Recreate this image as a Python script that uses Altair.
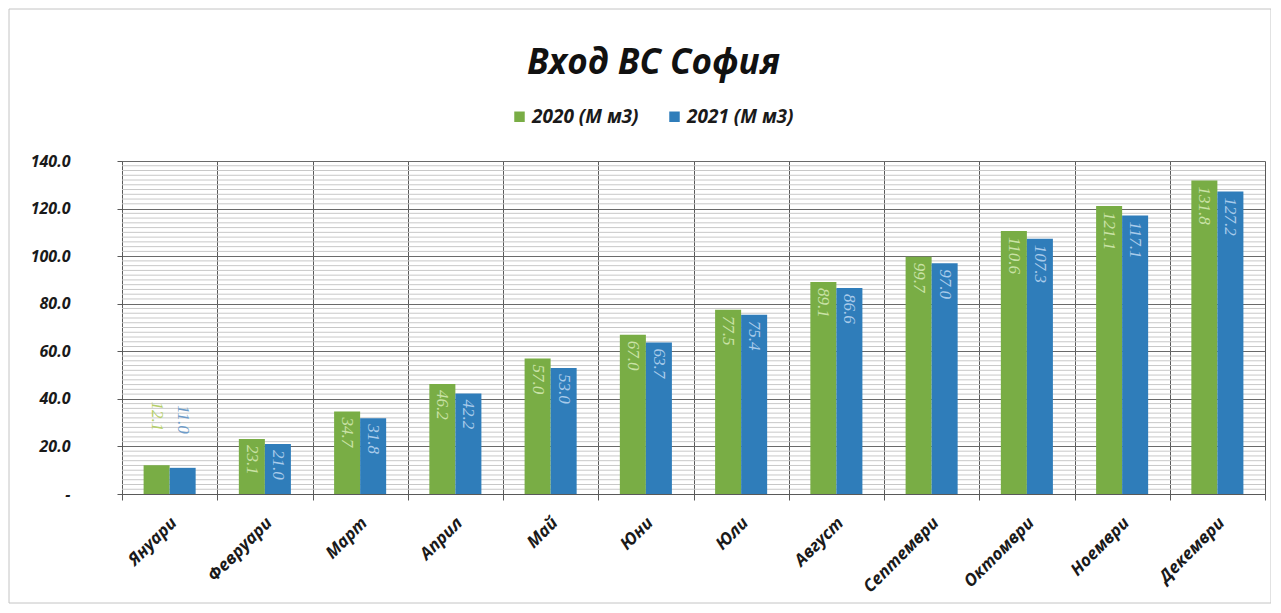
import altair as alt
import pandas as pd

months = ["Януари", "Февруари", "Март", "Април", "Май", "Юни", "Юли",
          "Август", "Септември", "Октомври", "Ноември", "Декември"]
series = ["2020 (М м3)", "2021 (М м3)"]
values_2020 = [12.1, 23.1, 34.7, 46.2, 57.0, 67.0, 77.5, 89.1, 99.7, 110.6, 121.1, 131.8]
values_2021 = [11.0, 21.0, 31.8, 42.2, 53.0, 63.7, 75.4, 86.6, 97.0, 107.3, 117.1, 127.2]
y_ticks = [0, 20, 40, 60, 80, 100, 120, 140]
minor_grid = [v for v in range(0, 141, 2) if v % 20 != 0]

colors = ["#79ad45", "#2f7dba"]
label_colors = ["#c9e2a6", "#a9cbea"]
outside_colors = ["#b5cf6a", "#6d9bc8"]

rows = []
for i, m in enumerate(months):
    rows.append({"month": m, "series": series[0], "value": values_2020[i], "idx": i})
    rows.append({"month": m, "series": series[1], "value": values_2021[i], "idx": i})
df = pd.DataFrame(rows)
grid_df = pd.DataFrame({"g": minor_grid})

FONT = "Open Sans"
W, H = 1143, 333

x_enc = alt.X(
    "month:N", sort=months,
    scale=alt.Scale(paddingInner=0, paddingOuter=0),
    axis=alt.Axis(
        title=None, tickBand="extent", labelAngle=-45, labelFont=FONT,
        labelFontSize=17, labelFontWeight="bold", labelFontStyle="italic",
        labelColor="#1a1a1a", labelPadding=20, tickSize=6, tickColor="#595959",
        domainColor="#595959", grid=True, gridColor="#595959", gridOpacity=1,
        labelAlign="right", labelBaseline="middle", labelOffset=4,
    ),
)
y_scale = alt.Scale(domain=[0, 140], nice=False)
y_axis = alt.Axis(
    title=None, values=y_ticks,
    labelExpr="datum.value == 0 ? '-' : format(datum.value, '.1f')",
    labelFont=FONT, labelFontSize=16, labelFontWeight="bold",
    labelFontStyle="italic", labelColor="#1a1a1a", labelPadding=47,
    tickSize=5, tickColor="#595959", domainColor="#595959",
    grid=True, gridColor="#6a6a6a", gridOpacity=1,
)
x_off = alt.XOffset("series:N", sort=series, scale=alt.Scale(paddingOuter=0.83, paddingInner=0))

frame = alt.Chart(pd.DataFrame({"a": [0]})).mark_rect(
    fill=None, stroke="#c4c4c4", strokeWidth=1
).encode(x=alt.value(-113), x2=alt.value(1149), y=alt.value(-152), y2=alt.value(442))

minor = alt.Chart(grid_df).mark_rule(color="#c8c8c8", strokeWidth=1).encode(
    y=alt.Y("g:Q", scale=y_scale, axis=y_axis)
)

base = alt.Chart(df)

bars = base.mark_bar().encode(
    x=x_enc,
    xOffset=x_off,
    y=alt.Y("value:Q", scale=y_scale, axis=y_axis),
    color=alt.Color(
        "series:N", sort=series, scale=alt.Scale(domain=series, range=colors),
        legend=alt.Legend(
            title=None, orient="none", legendX=388, legendY=-54,
            direction="horizontal", symbolType="square", symbolSize=110,
            symbolStrokeWidth=0, labelFont=FONT, labelFontSize=19,
            labelFontWeight="bold", labelFontStyle="italic", labelColor="#1a1a1a",
            columnPadding=26, labelOffset=3, labelLimit=300,
        ),
    ),
)

inside = base.transform_filter("datum.value >= 15").mark_text(
    angle=90, align="left", baseline="middle", dx=6, font="Liberation Serif",
    fontStyle="italic", fontSize=17,
).encode(
    x=alt.X("month:N", sort=months),
    xOffset=x_off,
    y=alt.Y("value:Q", scale=y_scale),
    text=alt.Text("value:Q", format=".1f"),
    color=alt.Color("series:N", sort=series,
                    scale=alt.Scale(domain=series, range=label_colors), legend=None),
)

outside = base.transform_filter("datum.value < 15").mark_text(
    angle=90, align="right", baseline="middle", dx=-34, font="Liberation Serif",
    fontStyle="italic", fontSize=17,
).encode(
    x=alt.X("month:N", sort=months),
    xOffset=x_off,
    y=alt.Y("value:Q", scale=y_scale),
    text=alt.Text("value:Q", format=".1f"),
    color=alt.Color("series:N", sort=series,
                    scale=alt.Scale(domain=series, range=outside_colors), legend=None),
)

chart = alt.layer(frame, minor, bars, inside, outside).resolve_scale(
    color="independent"
).properties(
    width=W, height=H,
    autosize=alt.AutoSizeParams(type="none"),
    padding={"left": 114, "top": 153, "right": 6, "bottom": 110},
    title=alt.TitleParams(
        "Вход ВС София", font=FONT, fontSize=35, fontWeight="bold",
        fontStyle="italic", color="#111111", anchor="middle", frame="group",
        dx=-40, offset=0, dy=72,
    ),
).configure_view(stroke="#595959", strokeWidth=1).configure(background="white")

chart.save("out.html", embed_options={"renderer": "svg", "actions": False})
